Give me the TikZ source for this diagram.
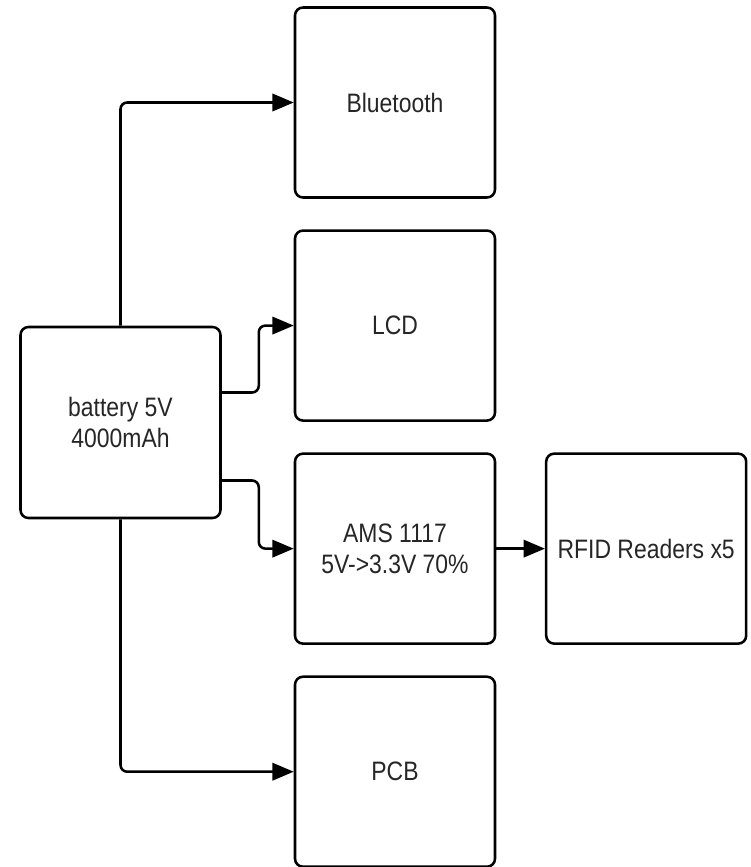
\documentclass[tikz,border=0pt]{standalone}
\usepackage{fontspec}
\setmainfont{Liberation Sans}[FakeStretch=0.86]
\usepackage{tikz}
\usetikzlibrary{arrows.meta,calc,positioning}

\begin{document}
\begin{tikzpicture}[
    x=0.75pt,y=-0.75pt,
    node distance=22.9pt,
    >={Triangle[length=16pt,width=13pt]},
    font=\fontsize{20pt}{23pt}\selectfont,
    block/.style={
      rectangle,rounded corners=6pt,draw=black,fill=white,line width=1.9pt,
      minimum width=150pt,minimum height=142.5pt,align=center,text=black!85
    },
    flow/.style={->,line width=1.9pt,rounded corners=5pt}
  ]
    \useasboundingbox (0,0) rectangle (750,867);

    \node[block,minimum height=143.25pt] (bat) at (120.5,422.5) {battery 5V\\4000mAh};
    \node[block] (bt) at (395,102.5) {Bluetooth};
    \node[block,below=of bt] (lcd) {LCD};
    \node[block,below=of lcd] (ams) {AMS 1117\\5V->3.3V 70\%};
    \node[block,below=of ams] (pcb) {PCB};
    \node[block,right=36.5pt of ams] (rfid) {RFID Readers x5};

    \draw[flow] (bat.north) |- (bt.west);
    \draw[flow] ([yshift=22.5pt]bat.east) -- ++(37,0) |- (lcd.west);
    \draw[flow] ([yshift=-43.5pt]bat.east) -- ++(37,0) |- (ams.west);
    \draw[flow] (bat.south) |- (pcb.west);
    \draw[flow] (ams) -- (rfid);
  \end{tikzpicture}
\end{document}
